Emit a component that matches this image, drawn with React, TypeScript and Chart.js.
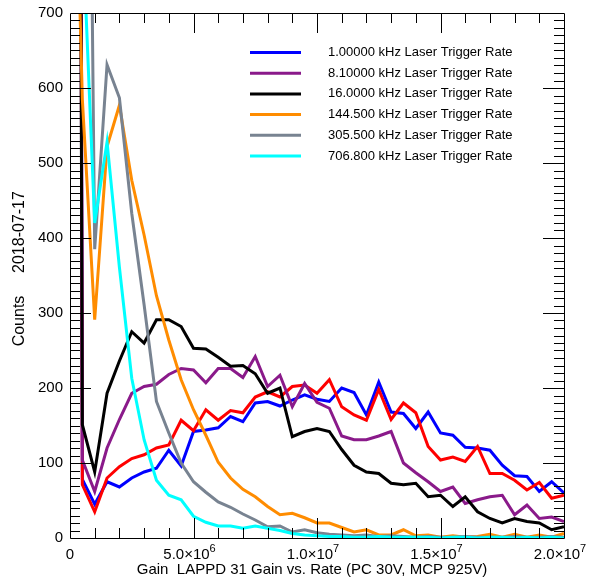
import { useEffect, useRef } from 'react';
import { Chart, registerables } from 'chart.js';

Chart.register(...registerables);

// Bin centres of the gain histogram, in units of 10^6
const gainMillions = [
  0, 0.5, 1, 1.5, 2, 2.5, 3, 3.5, 4, 4.5, 5, 5.5, 6, 6.5, 7, 7.5, 8, 8.5, 9, 9.5, 10,
  10.5, 11, 11.5, 12, 12.5, 13, 13.5, 14, 14.5, 15, 15.5, 16, 16.5, 17, 17.5, 18, 18.5, 19, 19.5, 20,
];

const counts1k = [
  8000, 78, 45, 75, 68, 80, 88, 93, 117, 96, 142, 144, 147, 162, 155, 180, 182, 176, 184, 191, 185,
  182, 200, 194, 164, 208, 168, 166, 146, 168, 140, 137, 121, 120, 117, 97, 83, 82, 62, 75, 60,
];
const counts8k = [
  6000, 104, 62, 120, 158, 193, 202, 205, 218, 226, 224, 207, 226, 226, 214, 242, 202, 217, 175, 206, 181,
  173, 136, 131, 131, 136, 142, 100, 87, 75, 62, 68, 46, 51, 55, 57, 31, 44, 26, 28, 22,
];
const counts16k = [
  5000, 151, 88, 193, 236, 275, 260, 291, 291, 282, 253, 252, 241, 229, 230, 219, 193, 200, 135, 142, 146,
  142, 118, 97, 88, 86, 73, 71, 73, 55, 57, 42, 55, 35, 26, 20, 26, 22, 20, 11, 15,
];
const counts144k = [
  1200, 585, 291, 522, 577, 477, 404, 323, 264, 211, 171, 137, 101, 80, 65, 55, 42, 31, 33, 27, 20,
  20, 14, 8, 11, 4, 4, 11, 3, 4, 1, 3, 1, 2, 5, 1, 5, 1, 4, 1, 6,
];
const counts305k = [
  2500, 2000, 385, 631, 587, 433, 311, 182, 140, 100, 75, 61, 48, 41, 32, 24, 15, 16, 8, 11, 7,
  5, 4, 3, 4, 2, 3, 2, 1, 2, 1, 1, 2, 1, 1, 1, 2, 1, 1, 2, 1,
];
const counts706k = [
  2500, 820, 420, 528, 361, 213, 131, 77, 57, 51, 29, 21, 16, 16, 13, 16, 13, 10, 6, 4, 3,
  2, 2, 1, 1, 2, 1, 1, 1, 1, 0, 1, 1, 0, 1, 1, 0, 1, 0, 1, 0,
];
const countsRed = [
  7000, 71, 35, 80, 95, 106, 111, 120, 124, 157, 143, 171, 157, 170, 167, 188, 195, 188, 202, 204, 193,
  211, 175, 164, 157, 198, 158, 180, 167, 122, 104, 108, 102, 122, 86, 86, 77, 64, 74, 53, 57,
];

const legendLabels = [
  '1.00000 kHz Laser Trigger Rate',
  '8.10000 kHz Laser Trigger Rate',
  '16.0000 kHz Laser Trigger Rate',
  '144.500 kHz Laser Trigger Rate',
  '305.500 kHz Laser Trigger Rate',
  '706.800 kHz Laser Trigger Rate',
];
const legendColors = ['#0000ff', '#8a1a8a', '#000000', '#ff8c00', '#788391', '#00ffff'];

const yTickValues = [0, 100, 200, 300, 400, 500, 600, 700];
const xTickValues = [0, 5e6, 1e7, 1.5e7, 2e7];
const xTickMantissa = ['0', '5.0×10', '1.0×10', '1.5×10', '2.0×10'];
const xTickExponent = ['', '6', '7', '7', '7'];

const xTitle = 'Gain  LAPPD 31 Gain vs. Rate (PC 30V, MCP 925V)';
const yTitleLeft = 'Counts';
const yTitleRight = '2018-07-17';

const FONT = '"Liberation Sans", Arial, Helvetica, sans-serif';

const toPoints = (vals: number[]) => vals.map((v, i) => ({ x: gainMillions[i] * 1e6, y: v }));

const framePlugin = {
  id: 'frameAxes',
  afterDatasetsDraw(chart: any) {
    const { ctx, chartArea: a, scales } = chart;
    const xs = scales.x;
    const ys = scales.y;
    ctx.save();
    ctx.strokeStyle = '#000';
    ctx.lineWidth = 1;
    ctx.beginPath();
    ctx.rect(Math.round(a.left) + 0.5, Math.round(a.top) + 0.5, Math.round(a.right - a.left), Math.round(a.bottom - a.top));
    ctx.stroke();

    // x ticks (minor every 1e6, major every 5e6), on bottom and top edges
    ctx.beginPath();
    for (let v = 1e6; v < 2e7; v += 1e6) {
      const px = Math.round(xs.getPixelForValue(v)) + 0.5;
      const len = v % 5e6 === 0 ? 20 : 10;
      ctx.moveTo(px, a.bottom);
      ctx.lineTo(px, a.bottom - len);
      ctx.moveTo(px, a.top);
      ctx.lineTo(px, a.top + len);
    }
    // y ticks (minor every 10, major every 100), on left and right edges
    for (let v = 10; v < 700; v += 10) {
      const py = Math.round(ys.getPixelForValue(v)) + 0.5;
      const len = v % 100 === 0 ? 21 : 10;
      ctx.moveTo(a.left, py);
      ctx.lineTo(a.left + len, py);
      ctx.moveTo(a.right, py);
      ctx.lineTo(a.right - len, py);
    }
    ctx.stroke();

    ctx.fillStyle = '#000';
    // y tick labels
    ctx.font = `15px ${FONT}`;
    ctx.textAlign = 'right';
    ctx.textBaseline = 'middle';
    yTickValues.forEach((v) => {
      ctx.fillText(String(v), a.left - 7, ys.getPixelForValue(v));
    });

    // x tick labels with superscript exponents
    ctx.textBaseline = 'alphabetic';
    ctx.textAlign = 'left';
    xTickValues.forEach((v, i) => {
      const px = xs.getPixelForValue(v);
      ctx.font = `15px ${FONT}`;
      const mw = ctx.measureText(xTickMantissa[i]).width;
      ctx.font = `11px ${FONT}`;
      const ew = xTickExponent[i] ? ctx.measureText(xTickExponent[i]).width : 0;
      const start = px - (mw + ew) / 2 - (ew ? 4 : 0);
      ctx.font = `15px ${FONT}`;
      ctx.fillText(xTickMantissa[i], start, a.bottom + 21);
      if (ew) {
        ctx.font = `11px ${FONT}`;
        ctx.fillText(xTickExponent[i], start + mw, a.bottom + 14);
      }
    });

    // axis titles
    ctx.font = `15px ${FONT}`;
    ctx.textAlign = 'center';
    ctx.fillText(xTitle, (a.left + a.right) / 2 - 5, a.bottom + 36);

    ctx.save();
    ctx.translate(20, 0);
    ctx.rotate(-Math.PI / 2);
    ctx.font = `16px ${FONT}`;
    ctx.textBaseline = 'middle';
    ctx.fillText(yTitleLeft, -321, 0);
    ctx.fillText(yTitleRight, -232, 0);
    ctx.restore();

    // legend
    ctx.font = `13px ${FONT}`;
    ctx.textAlign = 'left';
    ctx.textBaseline = 'middle';
    legendLabels.forEach((label, i) => {
      const ly = 52.5 + i * 20.7;
      ctx.strokeStyle = legendColors[i];
      ctx.lineWidth = 3;
      ctx.beginPath();
      ctx.moveTo(250, ly);
      ctx.lineTo(301, ly);
      ctx.stroke();
      ctx.fillStyle = '#000';
      ctx.fillText(label, 328, ly);
    });
    ctx.restore();
  },
};

export default function App() {
  const canvasRef = useRef<HTMLCanvasElement>(null);

  useEffect(() => {
    if (!canvasRef.current) return;
    // first entry is painted on top
    const series = [
      { data: counts706k, color: legendColors[5] },
      { data: counts305k, color: legendColors[4] },
      { data: counts144k, color: legendColors[3] },
      { data: counts16k, color: legendColors[2] },
      { data: counts8k, color: legendColors[1] },
      { data: countsRed, color: '#ff0000' },
      { data: counts1k, color: legendColors[0] },
    ];
    const chart = new Chart(canvasRef.current, {
      type: 'line',
      data: {
        datasets: series.map((s) => ({
          data: toPoints(s.data),
          borderColor: s.color,
          backgroundColor: s.color,
          borderWidth: 3,
          pointRadius: 0,
          tension: 0,
          fill: false,
          borderJoinStyle: 'miter' as const,
        })),
      },
      options: {
        responsive: false,
        animation: false,
        events: [],
        layout: { padding: { left: 70, right: 28, top: 13, bottom: 43 } },
        plugins: { legend: { display: false }, tooltip: { enabled: false } },
        scales: {
          x: { type: 'linear', min: 0, max: 2e7, display: false },
          y: { type: 'linear', min: 0, max: 700, display: false },
        },
      },
      plugins: [framePlugin],
    });
    return () => chart.destroy();
  }, []);

  return (
    <div style={{ position: 'absolute', left: 0, top: 0, width: 592, height: 581, background: '#fff' }}>
      <canvas ref={canvasRef} width={592} height={581} style={{ display: 'block' }} />
    </div>
  );
}
